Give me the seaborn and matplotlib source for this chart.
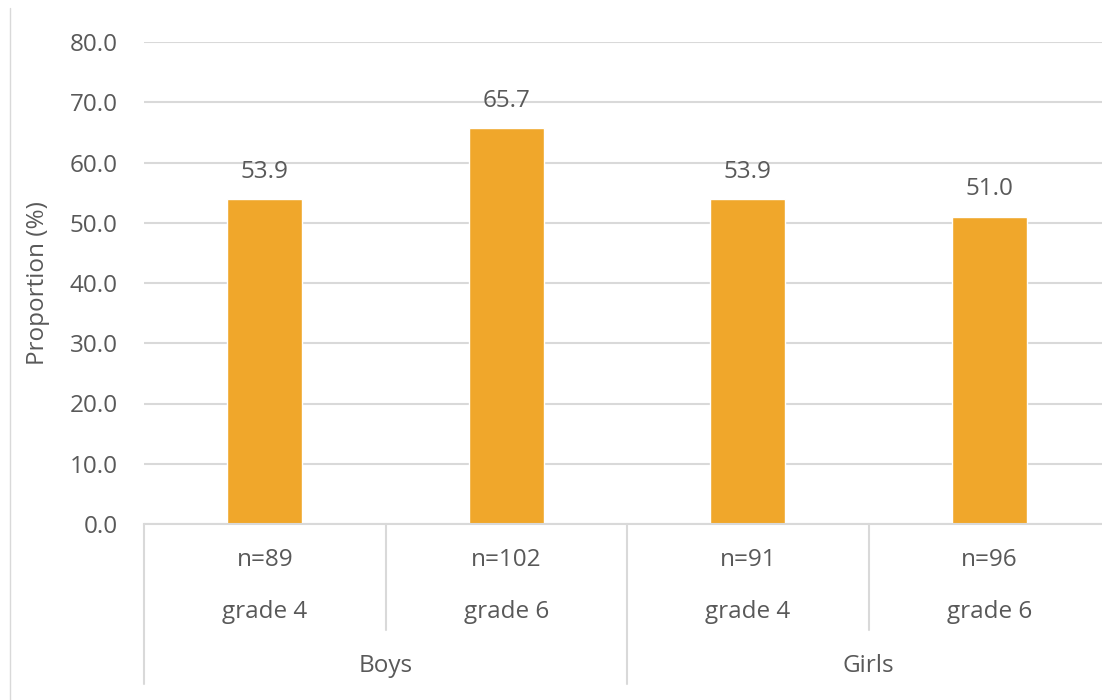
import pandas as pd
import numpy as np
import seaborn as sns
import matplotlib.pyplot as plt
from matplotlib.lines import Line2D

groups = ['Boys', 'Boys', 'Girls', 'Girls']
grades = ['grade 4', 'grade 6', 'grade 4', 'grade 6']
sizes = ['n=89', 'n=102', 'n=91', 'n=96']
proportion = [53.9, 65.7, 53.9, 51.0]
group_names = ['Boys', 'Girls']

df = pd.DataFrame({
    'group': groups,
    'grade': grades,
    'n': sizes,
    'proportion': proportion,
})
df['key'] = df['group'] + ' ' + df['grade']

sns.set_style('white')
plt.rcParams['font.family'] = ['Open Sans', 'DejaVu Sans']

text_color = '#595959'
grid_color = '#D9D9D9'
bar_color = '#F0A72B'
fs = 17.5

fig = plt.figure(figsize=(11.02, 7.0), dpi=100)
ax_ = fig.add_axes([144 / 1102, 1 - 524 / 700, 966 / 1102, 482 / 700])

sns.barplot(data=df, x='key', y='proportion', color=bar_color,
            width=0.31, saturation=1, ax=ax_)

ax_.set_xlim(-0.5, len(df) - 0.5)
ax_.set_ylim(0, 80)
ax_.set_yticks(np.arange(0, 81, 10))
ax_.set_yticklabels([f'{v:.1f}' for v in np.arange(0, 81, 10)],
                    fontsize=fs, color=text_color)
ax_.yaxis.grid(True, color=grid_color, linewidth=1.5)
ax_.set_axisbelow(True)
ax_.tick_params(axis='y', length=0, pad=19)
ax_.set_xticks([])
ax_.set_xlabel('')
ax_.set_ylabel('Proportion (%)', fontsize=fs, color=text_color, labelpad=14)
for s in ['top', 'right', 'left']:
    ax_.spines[s].set_visible(False)
ax_.spines['bottom'].set_color(grid_color)
ax_.spines['bottom'].set_linewidth(1.5)

ax_.bar_label(ax_.containers[0], fmt='%.1f', padding=11,
              fontsize=fs, color=text_color)

# multi-level category axis
tr = ax_.get_xaxis_transform()
for i, row in df.iterrows():
    ax_.text(i, -0.075, row['n'], transform=tr, ha='center', va='center',
             fontsize=fs, color=text_color)
    ax_.text(i, -0.183, row['grade'], transform=tr, ha='center', va='center',
             fontsize=fs, color=text_color)
for j, g in enumerate(group_names):
    ax_.text(2 * j + 0.5, -0.295, g, transform=tr, ha='center', va='center',
             fontsize=fs, color=text_color)

for x in [-0.5, 1.5, 3.5]:
    ax_.add_line(Line2D([x, x], [0, -0.332], transform=tr, color=grid_color,
                        linewidth=1.5, clip_on=False))
for x in [0.5, 2.5]:
    ax_.add_line(Line2D([x, x], [0, -0.22], transform=tr, color=grid_color,
                        linewidth=1.5, clip_on=False))

# chart border on the left
fig.add_artist(Line2D([10 / 1102, 10 / 1102], [0, 1 - 8 / 700],
                      transform=fig.transFigure, color=grid_color, linewidth=1))

plt.savefig('out.png', dpi=100)
